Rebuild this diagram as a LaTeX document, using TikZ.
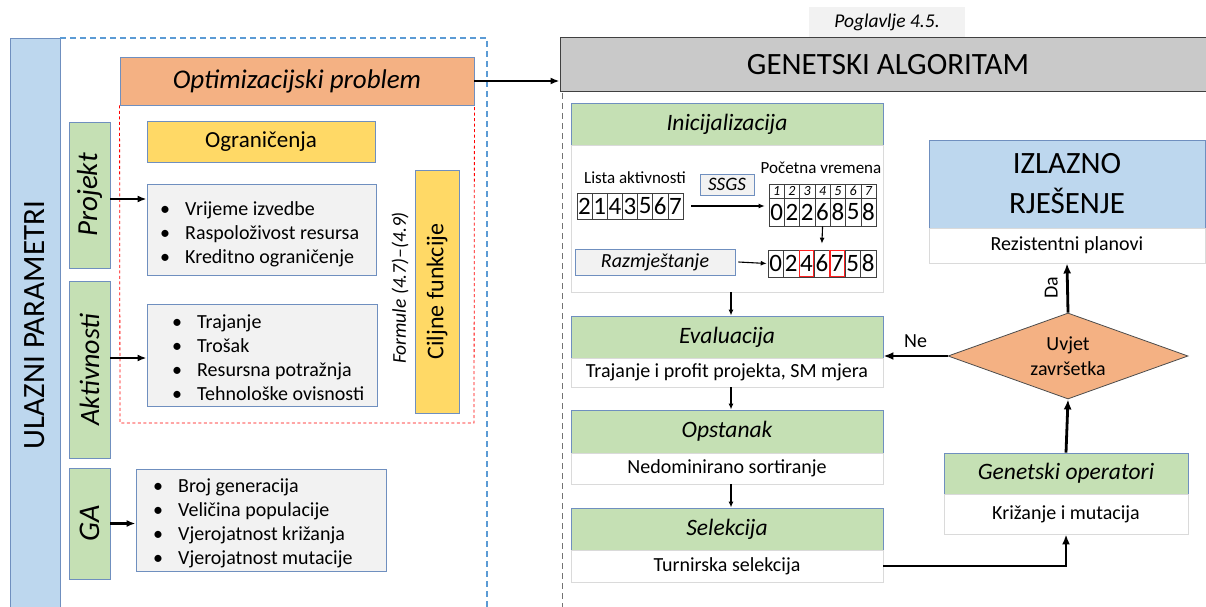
\documentclass[tikz,border=0pt]{standalone}
\usepackage{fontspec}
\setmainfont{Carlito}
\usetikzlibrary{arrows.meta,shapes.geometric}
\definecolor{cblue}{HTML}{BDD7EE}
\definecolor{cgreen}{HTML}{C5E0B4}
\definecolor{corange}{HTML}{F4B183}
\definecolor{cyellow}{HTML}{FFD966}
\definecolor{clgray}{HTML}{F2F2F2}
\definecolor{cgray}{HTML}{C9C9C9}
\definecolor{cborder}{HTML}{6F8FBF}
\definecolor{cdash}{HTML}{5B9BD5}
\definecolor{cwb}{HTML}{DADADA}
\definecolor{cred}{HTML}{FF2020}
\newcommand{\fs}[1]{\fontsize{#1}{#1}\selectfont}
\newcommand{\bl}[1]{\makebox[25pt][l]{\textbullet}#1}
\begin{document}
\begin{tikzpicture}[x=1pt,y=-1pt,
  rbox/.style 2 args={draw=cborder, line width=0.9pt, inner sep=0pt, minimum width=#1, minimum height=#2},
  wbox/.style 2 args={draw=cwb, fill=white, line width=0.9pt, inner sep=0pt, minimum width=#1, minimum height=#2},
  cell/.style={draw=black!75, line width=0.6pt, inner sep=0pt, minimum width=15.2pt, minimum height=#1, font=\fs{25}},
  rcell/.style={draw=cred, line width=1.3pt, inner sep=0pt, minimum width=14.4pt, minimum height=26pt},
  hcell/.style={draw=black!75, line width=0.6pt, inner sep=0pt, minimum width=15.3pt, minimum height=14pt, font=\fs{14}\itshape},
  arr/.style={-{Latex[length=9pt,width=7pt]}, line width=2.2pt},
  barr/.style={-{Latex[length=10pt,width=8pt]}, line width=2.8pt},
  sarr/.style={-{Latex[length=6pt,width=5pt]}, line width=1.1pt},
  list/.style={anchor=west, align=left, inner sep=0pt, font=\fontsize{20}{24}\selectfont},
]
\useasboundingbox (0,0) rectangle (1206,607);
% ---------- left part ----------
\node[rbox={50}{574}, fill=cblue] (ulaz) at (35,325) {\rotatebox{90}{\fs{31}ULAZNI PARAMETRI}};
\draw[cdash, line width=1.1pt, dash pattern=on 6pt off 4pt] (60,38) -- (487,38) -- (487,612);
\node[rbox={354}{48}, fill=corange] (opt) at (297,81) {\fs{27}\itshape Optimizacijski problem};
\draw[red, line width=0.8pt, dash pattern=on 3pt off 2.5pt] (opt.south west) -- (120,423) -- (474,423) -- (opt.south east);
\node[rbox={228}{41}, fill=cyellow] (ogr) at (261,141.5) {\fs{23}Ograničenja};
\node[rbox={41}{146}, fill=cgreen] (proj) at (89.5,195) {\rotatebox{90}{\fs{29}\itshape Projekt}};
\node[rbox={229}{91}, fill=clgray] (box1) at (261.5,229.5) {};
\node[list] (l1) at (160,234) {\bl{Vrijeme izvedbe}\\\bl{Raspoloživost resursa}\\\bl{Kreditno ograničenje}};
\node[rbox={41}{177}, fill=cgreen] (akt) at (89.5,369.5) {\rotatebox{90}{\fs{28}\itshape Aktivnosti}};
\node[rbox={230}{102}, fill=clgray] (box2) at (262,355) {};
\node[list] (l2) at (172,358) {\bl{Trajanje}\\\bl{Trošak}\\\bl{Resursna potražnja}\\\bl{Tehnološke ovisnosti}};
\node[rbox={44}{243}, fill=cyellow] (cilj) at (437,291.5) {\rotatebox{90}{\fs{24}Ciljne funkcije}};
\node[rotate=90, inner sep=0pt, font=\fs{19.5}\itshape] (form) at (400,288) {Formule (4.7)--(4.9)};
\node[rbox={41}{111}, fill=cgreen] (ga) at (89.5,523.5) {\rotatebox{90}{\fs{30}\itshape GA}};
\node[rbox={250}{102}, fill=clgray] (box3) at (261,520) {};
\node[list] (l3) at (153,523) {\bl{Broj generacija}\\\bl{Veličina populacije}\\\bl{Vjerojatnost križanja}\\\bl{Vjerojatnost mutacije}};
\draw[arr] ([yshift=-4pt]proj.east) coordinate (p1) -- (p1 -| box1.west);
\draw[arr] ([yshift=11.5pt]akt.east) coordinate (p2) -- (p2 -| box2.west);
\draw[arr] (ga.east) -- (ga.east -| box3.west);
% ---------- right part ----------
\node[fill=clgray, minimum width=156pt, minimum height=30pt, inner sep=0pt] (pog) at (887,22) {\fs{19.5}\itshape Poglavlje 4.5.};
\node[draw=black!75, fill=cgray, line width=1pt, inner sep=0pt, minimum width=656pt, minimum height=54pt] (gen) at (888,65) {\fs{31}GENETSKI ALGORITAM};
\draw[arr] (opt.east) -- (opt.east -| gen.west);
\draw[black!55, line width=0.9pt, dash pattern=on 6pt off 4pt] (562,93) -- (562,612);
% init
\node[rbox={312}{42}, fill=cgreen] (initg) at (727,124) {\fs{23.5}\itshape Inicijalizacija};
\node[wbox={312}{147}] (initw) at (727,218.5) {};
\node[font=\fs{17}, inner sep=0pt] (lista) at (635,178) {Lista aktivnosti};
\foreach \v [count=\i] in {2,1,4,3,5,6,7}
  \node[cell=26pt] (a\i) at ({577+15.14*(\i-0.5)},206) {\v};
\node[rbox={54}{21}, fill=clgray] (ssgs) at (727,184.5) {\fs{19}\itshape SSGS};
\node[font=\fs{17}, inner sep=0pt] (poc) at (821,168) {Početna vremena};
\foreach \i in {1,...,7}
  \node[hcell] (h\i) at ({769+15.3*(\i-0.5)},191) {\i};
\foreach \v [count=\i] in {0,2,2,6,8,5,8}
  \node[cell=28pt, minimum width=15.3pt] (b\i) at ({769+15.3*(\i-0.5)},212) {\v};
\node[rbox={160}{26}, fill=clgray] (raz) at (655,262) {\fs{20}\itshape Razmještanje};
\foreach \v [count=\i] in {0,2,4,6,7,5,8}
  \node[cell=27pt, minimum width=15.4pt] (c\i) at ({768+15.4*(\i-0.5)},263.5) {\v};
\node[rcell] (r3) at (c3.center) {};
\node[rcell] (r5) at (c5.center) {};
\draw[sarr] ([xshift=8pt]a7.east) -- ([xshift=-4pt]a7.east -| b1.west);
\draw[sarr] (b4.south) -- ([yshift=6pt]c4.north);
\draw[sarr] ([xshift=3pt]raz.east) -- ([xshift=-1pt]c1.west);
% flow
\node[rbox={312}{42}, fill=cgreen] (evalg) at (727,337) {\fs{23.5}\itshape Evaluacija};
\node[wbox={312}{29}] (evalw) at (727,372.5) {\fs{20}Trajanje i profit projekta, SM mjera};
\node[rbox={312}{43}, fill=cgreen] (opsg) at (727,431.5) {\fs{23.5}\itshape Opstanak};
\node[wbox={312}{31}] (opsw) at (727,468.5) {\fs{20}Nedominirano sortiranje};
\node[rbox={312}{42}, fill=cgreen] (selg) at (727,529) {\fs{23.5}\itshape Selekcija};
\node[wbox={312}{32}] (selw) at (727,566) {\fs{20}Turnirska selekcija};
\draw[sarr, line width=1.6pt] ([xshift=4pt]initw.south) -- ([xshift=4pt]evalg.north);
\draw[sarr, line width=1.6pt] ([xshift=4pt]evalw.south) -- ([xshift=4pt]opsg.north);
\draw[sarr, line width=1.6pt] ([xshift=4pt]opsw.south) -- ([xshift=4pt]selg.north);
\node[draw=cborder, fill=cblue, line width=0.9pt, inner sep=0pt, minimum width=276pt, minimum height=88pt, align=center, font=\fontsize{31}{40}\selectfont] (izl) at (1067,184) {IZLAZNO\\RJEŠENJE};
\node[wbox={276}{35}] (izlw) at (1067,245.5) {\fs{20}Rezistentni planovi};
\node[diamond, aspect=2.8, draw=black!70, fill=corange, line width=0.8pt, inner sep=0pt, minimum width=240pt, minimum height=86pt, align=center, font=\fontsize{20}{25}\selectfont] (dia) at (1068,356) {Uvjet\\završetka};
\node[rbox={244}{41}, fill=cgreen] (gopg) at (1066,473.5) {\fs{23.5}\itshape Genetski operatori};
\node[wbox={244}{40}] (gopw) at (1066,514) {\fs{20}Križanje i mutacija};
\draw[barr] (dia.west) -- (dia.west -| evalg.east) node[pos=0.5, above=4pt, font=\fs{20}, text=black] (ne) {Ne};
\draw[barr] (dia.north) -- (izlw.south) node[pos=0.5, left=5pt, font=\fs{20}, rotate=90, anchor=south] (da) {Da};
\draw[barr] (gopg.north) -- (dia.south);
\draw[barr] (selw.east) -| (gopw.south);
\end{tikzpicture}
\end{document}
